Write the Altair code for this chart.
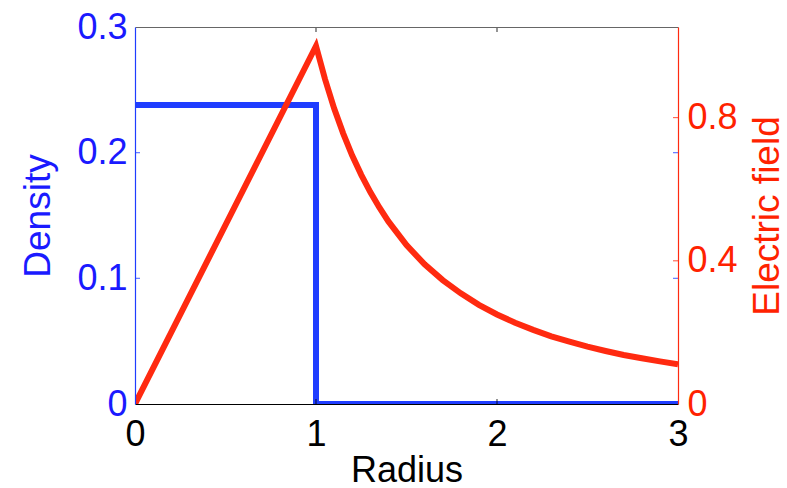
import altair as alt
import pandas as pd

# Charge density of a uniform sphere (unit radius) and its electric field
density_radius = [0.0, 1.0, 1.0, 3.0]
density_value = [0.238, 0.238, 0.0, 0.0]

field_radius = [0.0, 1.0, 1.05, 1.1, 1.15, 1.2, 1.25, 1.3, 1.35, 1.4, 1.5,
                1.6, 1.7, 1.8, 1.9, 2.0, 2.1, 2.2, 2.3, 2.4, 2.5, 2.6, 2.7,
                2.8, 2.9, 3.0]
field_value = [0.0, 1.0, 0.907, 0.826, 0.756, 0.694, 0.64, 0.592, 0.549,
               0.51, 0.444, 0.39, 0.346, 0.309, 0.277, 0.25, 0.227, 0.207,
               0.189, 0.174, 0.16, 0.148, 0.137, 0.128, 0.119, 0.111]

radius_domain = [0, 3]
density_domain = [0, 0.3]
field_domain = [0, 1.053]

radius_ticks = [0, 1, 2, 3]
density_ticks = [0, 0.1, 0.2, 0.3]
field_ticks = [0, 0.4, 0.8]

BLUE = "#1f3dff"
BLUE_TEXT = "#1a1aff"
RED = "#ff2a10"
RED_TEXT = "#ff2200"
FONT = "Liberation Sans"

density_df = pd.DataFrame({"r": density_radius, "v": density_value,
                           "i": range(len(density_radius))})
field_df = pd.DataFrame({"r": field_radius, "v": field_value,
                         "i": range(len(field_radius))})

# inner tick marks (mirrored on both vertical edges / both horizontal edges)
dens_tick_df = pd.DataFrame({
    "r": [radius_domain[0]] * 2 + [radius_domain[1]] * 2,
    "v": [0.1, 0.2, 0.1, 0.2],
})
field_tick_df = pd.DataFrame({"r": [radius_domain[1]] * 2, "v": [0.4, 0.8]})
x_tick_df = pd.DataFrame({
    "r": [1, 2, 1, 2],
    "v": [density_domain[0]] * 2 + [density_domain[1]] * 2,
})

x_scale = alt.Scale(domain=radius_domain, nice=False, zero=False)
yd_scale = alt.Scale(domain=density_domain, nice=False)
yf_scale = alt.Scale(domain=field_domain, nice=False)

x_axis_bottom = alt.Axis(
    orient="bottom", values=radius_ticks, format="d", tickSize=0,
    domainColor="black", domainWidth=1.2, labelColor="black",
    labelFontSize=36, labelPadding=13, labelFont=FONT, labelFlush=False,
    title="Radius", titleFontSize=36, titleFont=FONT, titleColor="black",
    titleFontWeight="normal", titlePadding=1, grid=False, zindex=2,
)
x_axis_top = alt.Axis(
    orient="top", labels=False, ticks=False, domainColor="#666666",
    domainWidth=1.2, title=None, grid=False, zindex=2,
)

density_axis = alt.Axis(
    orient="left", values=density_ticks, tickSize=0, domainColor=BLUE,
    domainWidth=1.2, labelColor=BLUE_TEXT, labelFontSize=36,
    labelPadding=8, labelFont=FONT, labelFlush=False,
    title="Density", titleColor=BLUE_TEXT,
    titleFontSize=37, titleFont=FONT, titleFontWeight="normal",
    titlePadding=19, grid=False, zindex=2,
    labelExpr="datum.value == 0 ? '0' : format(datum.value, '.1f')",
)
field_axis = alt.Axis(
    orient="right", values=field_ticks, tickSize=0, domainColor=RED,
    domainWidth=1.2, labelColor=RED_TEXT, labelFontSize=36,
    labelPadding=9, labelFont=FONT, labelFlush=False,
    title="Electric field", titleAngle=270, titleBaseline="top",
    titleColor=RED_TEXT, titleFontSize=37, titleFont=FONT,
    titleFontWeight="normal", titlePadding=12, grid=False, zindex=2,
    labelExpr="datum.value == 0 ? '0' : format(datum.value, '.1f')",
)

density_line = alt.Chart(density_df).mark_line(
    color=BLUE, strokeWidth=6, clip=True, strokeJoin="miter"
).encode(
    x=alt.X("r:Q", scale=x_scale, axis=x_axis_bottom),
    y=alt.Y("v:Q", scale=yd_scale, axis=density_axis),
    order="i:O",
)
density_tick_marks = alt.Chart(dens_tick_df).mark_tick(
    color=BLUE, orient="horizontal", size=10, thickness=1.2, clip=True
).encode(
    x=alt.X("r:Q", scale=x_scale, axis=x_axis_bottom),
    y=alt.Y("v:Q", scale=yd_scale, axis=density_axis),
)

field_line = alt.Chart(field_df).mark_line(
    color=RED, strokeWidth=6, clip=True, strokeJoin="miter"
).encode(
    x=alt.X("r:Q", scale=x_scale, axis=None),
    y=alt.Y("v:Q", scale=yf_scale, axis=field_axis),
    order="i:O",
)
field_tick_marks = alt.Chart(field_tick_df).mark_tick(
    color=RED, orient="horizontal", size=10, thickness=1.2, clip=True
).encode(
    x=alt.X("r:Q", scale=x_scale, axis=None),
    y=alt.Y("v:Q", scale=yf_scale, axis=field_axis),
)

x_tick_marks = alt.Chart(x_tick_df).mark_tick(
    color="black", orient="vertical", size=10, thickness=1.2, clip=True
).encode(
    x=alt.X("r:Q", scale=x_scale, axis=x_axis_top),
    y=alt.Y("v:Q", scale=yd_scale, axis=None),
)

chart = alt.layer(
    alt.layer(density_line, density_tick_marks),
    alt.layer(field_line, field_tick_marks),
    x_tick_marks,
).resolve_scale(
    y="independent"
).resolve_axis(
    x="independent"
).properties(
    width=543, height=377,
    autosize=alt.AutoSizeParams(type="none"),
    padding={"left": 135, "top": 27, "right": 109, "bottom": 84},
    background="white",
).configure_view(stroke=None)

chart.save("out.html", embed_options={"renderer": "svg", "actions": False})
